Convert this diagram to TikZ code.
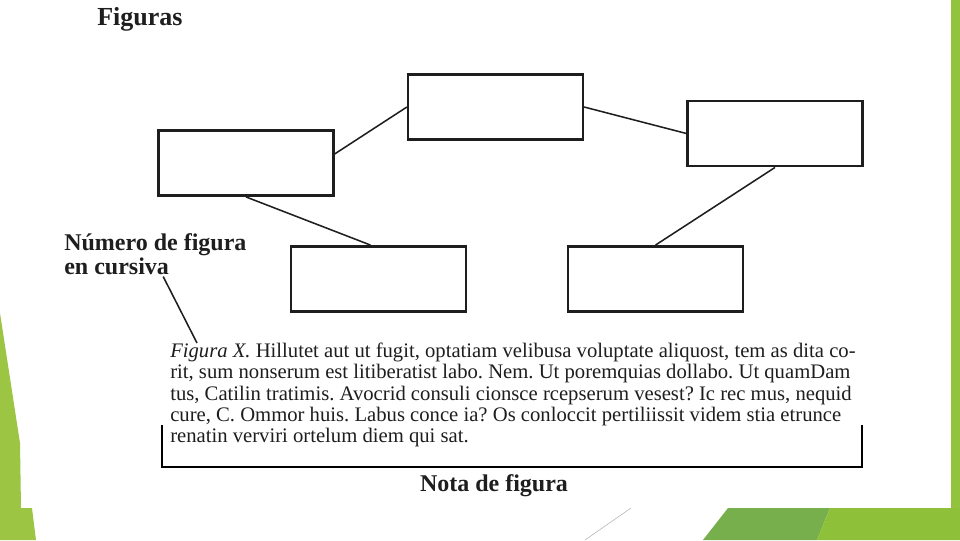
\documentclass[tikz,border=0pt]{standalone}
\usepackage{fontspec}
\setmainfont{Liberation Serif}
\usetikzlibrary{calc}
\definecolor{leafgreen}{HTML}{9DC544}
\definecolor{bandgreen}{HTML}{93C23C}
\definecolor{darkleaf}{HTML}{76AF4C}
\definecolor{lightleaf}{HTML}{8FC03A}
\definecolor{ink}{HTML}{1E1E1E}
\tikzset{
  figbox/.style={draw=ink, line width=1.9pt, minimum width=131pt, minimum height=49pt, inner sep=0pt},
  link/.style={draw=ink, line width=1.15pt},
  capline/.style={anchor=base west, inner sep=0pt, text=ink, font=\fontsize{15.5}{16}\selectfont},
  headline/.style={anchor=base west, inner sep=0pt, text=ink, font=\bfseries\fontsize{18}{20}\selectfont},
  bracketline/.style={draw=black, line width=2pt},
}
\frenchspacing
\begin{document}
\frenchspacing
\begin{tikzpicture}[x=0.75pt,y=-0.75pt]
\useasboundingbox (0,0) rectangle (960,540);
\fill[white] (0,0) rectangle (960,540);
% slide decoration
\fill[leafgreen] (0,313)--(20,443)--(21,508)--(32,508)--(36,540)--(0,540)--cycle;
\fill[bandgreen] (951,0)--(960,0)--(960,540)--(951,540)--cycle;
\fill[darkleaf] (728,508)--(830,508)--(817,540)--(703,540)--cycle;
\fill[lightleaf] (830,508)--(960,508)--(960,540)--(817,540)--cycle;
\draw[gray!60, line width=0.4pt] (585,540)--(631,508);

% title
\node[anchor=base west, inner sep=0pt, text=ink, font=\bfseries\fontsize{19.5}{22}\selectfont] (title) at (97,25) {Figuras};

% boxes
\node[figbox] (A) at (246,163) {};
\node[figbox] (B) at (495.5,107) {};
\node[figbox] (C) at (378.5,279) {};
\node[figbox] (D) at (775,133.5) {};
\node[figbox] (E) at (655.5,279) {};

\draw[link] ($(A.east)+(0,-9)$) -- (B.west);
\draw[link] (A.south) -- ($(C.north)+(-8,0)$);
\draw[link] (B.east) -- (D.west);
\draw[link] (D.south) -- (E.north);

% label
\node[headline] (lab1) at (64,250) {Número de figura};
\node[headline] (lab2) at (64,274) {en cursiva};

% caption
\node[capline] (cap1) at (170,357) {\textit{Figura X.} Hillutet aut ut fugit, optatiam velibusa voluptate aliquost, tem as dita co-};
\node[capline] (cap2) at (170,378.5) {rit, sum nonserum est litiberatist labo. Nem. Ut poremquias dollabo. Ut quamDam};
\node[capline] (cap3) at (170,400) {tus, Catilin tratimis. Avocrid consuli cionsce rcepserum vesest? Ic rec mus, nequid};
\node[capline] (cap4) at (170,421.5) {cure, C. Ommor huis. Labus conce ia? Os conloccit pertiliissit videm stia etrunce};
\node[capline] (cap5) at (170,442.5) {renatin verviri ortelum diem qui sat.};

\coordinate (lineend) at (197,343);
\draw[link] ($(lab2.south east)+(-6,2)$) -- (lineend);

% note bracket
\coordinate (bl1) at (162,425);
\coordinate (bl2) at (162,467);
\coordinate (br2) at (862,467);
\coordinate (br1) at (862,425);
\draw[bracketline] (bl1) -- (bl2) -- (br2) -- (br1);

\node[anchor=base, inner sep=0pt, text=ink, font=\bfseries\fontsize{18}{20}\selectfont] (nota) at (494,491) {Nota de figura};
\end{tikzpicture}
\end{document}
